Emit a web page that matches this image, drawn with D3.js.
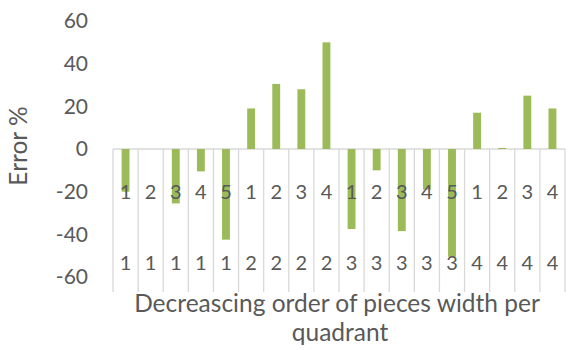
<!DOCTYPE html>
<html>
<head>
<meta charset="utf-8">
<script src="https://cdn.jsdelivr.net/npm/d3@7"></script>
<style>
  body{margin:0;background:#fff;}
  text{font-family:Lato,"Open Sans",sans-serif;fill:#595959;}
</style>
</head>
<body>
<svg id="chart"></svg>
<script>
var WIDTH=575, HEIGHT=350;

// inner level = piece order, outer level = quadrant
const innerLabels=["1","2","3","4","5","1","2","3","4","1","2","3","4","5","1","2","3","4"];
const outerLabels=["1","1","1","1","1","2","2","2","2","3","3","3","3","3","4","4","4","4"];
const errorValues=[-20,0,-25.5,-10.5,-42.5,19,30.5,28,50,-37.5,-10,-38.5,-19,-50.5,17,0.5,25,19];
const yTicks=[-60,-40,-20,0,20,40,60];

const BAR_COLOR="#9bbb59";
const GRID_COLOR="#d9d9d9";

var svg=d3.select("#chart").attr("width",WIDTH).attr("height",HEIGHT);

var idx=d3.range(errorValues.length);
var x=d3.scaleBand().domain(idx).range([113,565]).padding(0);
var y=d3.scaleLinear().domain([-60,60]).range([277,21]);

var barW=x.bandwidth()/3.19;

// y axis: labels only, plain hyphen for negatives
var yAxis=svg.append("g").attr("transform","translate(113,0)")
    .call(d3.axisLeft(y).tickValues(yTicks).tickSize(0).tickPadding(25)
        .tickFormat(function(d){return String(d)}));
yAxis.select(".domain").remove();
yAxis.selectAll("text").style("font-size","21px").style("fill","#595959")
    .style("font-family","Lato,'Open Sans',sans-serif");

// category separator lines
var edges=idx.map(function(i){return x(i)}).concat([x.range()[1]]);
svg.append("g").attr("class","seps").selectAll("line").data(edges)
    .enter().append("line")
    .attr("x1",function(d){return d}).attr("x2",function(d){return d})
    .attr("y1",y(0)).attr("y2",292)
    .attr("stroke",GRID_COLOR).attr("stroke-width",1.3);

// zero line
svg.append("line")
    .attr("x1",x.range()[0]).attr("x2",x.range()[1])
    .attr("y1",y(0)).attr("y2",y(0))
    .attr("stroke",GRID_COLOR).attr("stroke-width",1.3);

// bars
svg.append("g").attr("class","bars").selectAll("rect").data(errorValues)
    .enter().append("rect")
    .attr("x",function(d,i){return x(i)+x.bandwidth()/2-barW/2})
    .attr("y",function(d){return y(Math.max(0,d))})
    .attr("width",barW)
    .attr("height",function(d){return Math.abs(y(d)-y(0))})
    .attr("fill",BAR_COLOR);

// inner and outer category labels
svg.append("g").selectAll("text").data(innerLabels)
    .enter().append("text")
    .attr("x",function(d,i){return x(i)+x.bandwidth()/2})
    .attr("y",192).attr("dy","0.35em")
    .attr("text-anchor","middle").style("font-size","20px")
    .text(function(d){return d});

svg.append("g").selectAll("text").data(outerLabels)
    .enter().append("text")
    .attr("x",function(d,i){return x(i)+x.bandwidth()/2})
    .attr("y",263).attr("dy","0.35em")
    .attr("text-anchor","middle").style("font-size","20px")
    .text(function(d){return d});

// axis titles
var xTitle=svg.append("text").attr("text-anchor","middle").style("font-size","24.5px");
xTitle.append("tspan").attr("x",337).attr("y",303).attr("dy","0.35em").text("Decreascing order of pieces width per");
xTitle.append("tspan").attr("x",340).attr("y",332).attr("dy","0.35em").text("quadrant");

svg.append("text")
    .attr("transform","translate(18,146) rotate(-90)")
    .attr("text-anchor","middle").attr("dy","0.35em")
    .style("font-size","24.5px")
    .text("Error %");
</script>
</body>
</html>
